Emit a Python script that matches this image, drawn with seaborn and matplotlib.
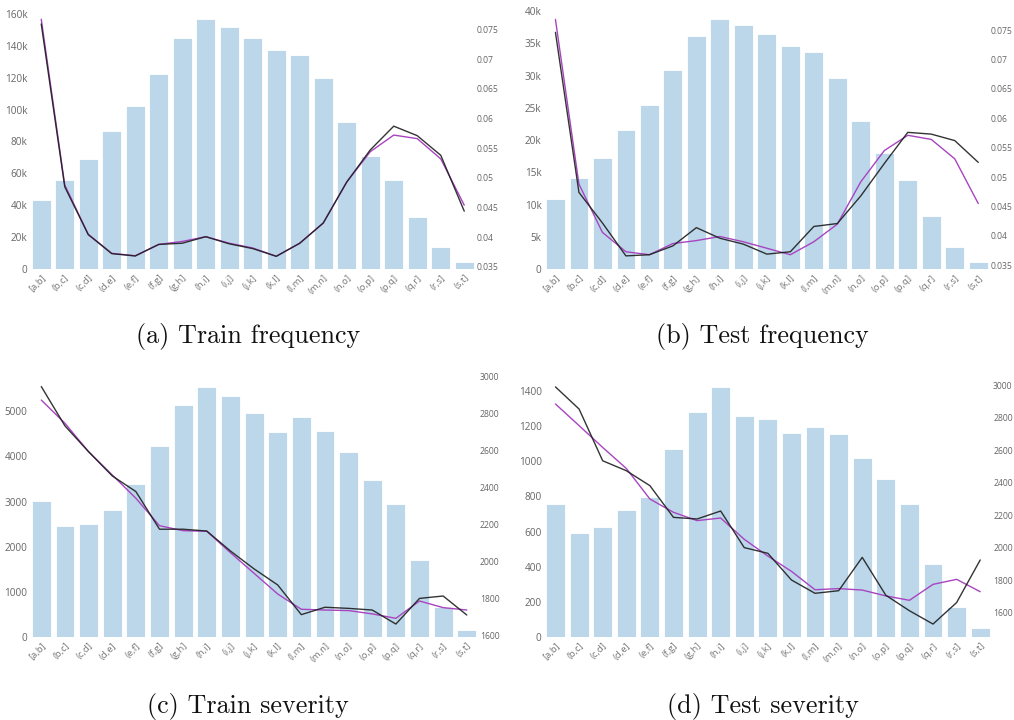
import numpy as np
import matplotlib
matplotlib.use("Agg")
import matplotlib.pyplot as plt
import seaborn as sns

# Interval bins shared by all four panels
bins = ["[a,b]", "(b,c]", "(c,d]", "(d,e]", "(e,f]", "(f,g]", "(g,h]", "(h,i]",
        "(i,j]", "(j,k]", "(k,l]", "(l,m]", "(m,n]", "(n,o]", "(o,p]", "(p,q]",
        "(q,r]", "(r,s]", "(s,t]"]

# Exposure counts per bin (bars, left axis)
train_freq_counts = [43.4e3, 56.0e3, 69.1e3, 86.7e3, 102.3e3, 122.6e3, 145.2e3, 156.7e3,
                     151.9e3, 145.2e3, 137.4e3, 134.3e3, 119.7e3, 92.5e3, 71.2e3, 55.8e3,
                     32.8e3, 13.8e3, 4.4e3]
test_freq_counts = [10.9e3, 14.1e3, 17.2e3, 21.6e3, 25.5e3, 30.8e3, 36.2e3, 38.7e3,
                    37.9e3, 36.4e3, 34.6e3, 33.6e3, 29.6e3, 23.0e3, 18.0e3, 13.8e3,
                    8.3e3, 3.4e3, 1.1e3]
train_sev_counts = [3006, 2467, 2496, 2814, 3383, 4232, 5140, 5539, 5340, 4963, 4550,
                    4867, 4572, 4092, 3479, 2939, 1706, 657, 155]
test_sev_counts = [757, 590, 628, 723, 799, 1068, 1279, 1423, 1256, 1241, 1161, 1195,
                   1156, 1019, 901, 757, 417, 169, 49]

# Observed (black) and fitted (purple) curves, right axis
train_freq_obs = [0.0759, 0.0485, 0.04045, 0.03725, 0.03685, 0.0388, 0.0390, 0.0401,
                  0.0389, 0.0381, 0.0368, 0.0390, 0.0424, 0.0493, 0.0547, 0.0587,
                  0.0571, 0.0538, 0.0444]
train_freq_fit = [0.0767, 0.0488, 0.0405, 0.0373, 0.0369, 0.0388, 0.0393, 0.0401,
                  0.0390, 0.0382, 0.0368, 0.0390, 0.0424, 0.0493, 0.0544, 0.0572,
                  0.0566, 0.0532, 0.0454]
test_freq_obs = [0.0746, 0.0474, 0.0422, 0.0366, 0.0368, 0.0383, 0.0414, 0.0396,
                 0.0386, 0.0369, 0.0373, 0.0416, 0.0421, 0.0468, 0.0523, 0.0576,
                 0.0573, 0.0562, 0.0525]
test_freq_fit = [0.0768, 0.0488, 0.0406, 0.0373, 0.0368, 0.0387, 0.0392, 0.0399,
                 0.0390, 0.0379, 0.0368, 0.0390, 0.0420, 0.0492, 0.0545, 0.0571,
                 0.0564, 0.0531, 0.0455]
train_sev_obs = [2948, 2735, 2595, 2464, 2379, 2175, 2175, 2165, 2057, 1960, 1873,
                 1712, 1752, 1746, 1737, 1661, 1800, 1813, 1710]
train_sev_fit = [2875, 2749, 2595, 2469, 2343, 2194, 2167, 2164, 2048, 1936, 1824,
                 1741, 1737, 1734, 1716, 1692, 1786, 1750, 1737]
test_sev_obs = [2990, 2854, 2536, 2475, 2383, 2188, 2178, 2227, 2002, 1967, 1803,
                1721, 1737, 1942, 1709, 1614, 1532, 1664, 1926]
test_sev_fit = [2885, 2752, 2618, 2489, 2301, 2219, 2168, 2184, 2053, 1950, 1856,
                1743, 1750, 1741, 1705, 1678, 1776, 1807, 1731]

# Tick values for each axis
train_freq_left_ticks = [0, 20e3, 40e3, 60e3, 80e3, 100e3, 120e3, 140e3, 160e3]
test_freq_left_ticks = [0, 5e3, 10e3, 15e3, 20e3, 25e3, 30e3, 35e3, 40e3]
freq_right_ticks = [0.035, 0.04, 0.045, 0.05, 0.055, 0.06, 0.065, 0.07, 0.075]
train_sev_left_ticks = [0, 1000, 2000, 3000, 4000, 5000]
test_sev_left_ticks = [0, 200, 400, 600, 800, 1000, 1200, 1400]
sev_right_ticks = [1600, 1800, 2000, 2200, 2400, 2600, 2800, 3000]

captions = ["(a) Train frequency", "(b) Test frequency",
            "(c) Train severity", "(d) Test severity"]

BAR = "#bcd7ea"
OBS = "#1e1e1e"
FIT = "#a844c0"
TICK = "#666666"

W, H = 1014, 720
sns.set_theme(style="white")
plt.rcParams["font.family"] = ["Open Sans", "DejaVu Sans"]
fig = plt.figure(figsize=(W / 100, H / 100), dpi=100)


def k_fmt(v):
    return "0" if v == 0 else f"{v/1000:g}k"


def plain_fmt(v):
    return f"{v:g}"


# panel boxes in pixels: left, right, top, bottom; plus axis limits
panels = [
    dict(box=(29.5, 476.0, 13, 269), lylim=(0, 160627), rylim=(0.034663, 0.077743),
         counts=train_freq_counts, obs=train_freq_obs, fit=train_freq_fit,
         lticks=train_freq_left_ticks, rticks=freq_right_ticks, lfmt=k_fmt, rfmt=plain_fmt,
         cap_xy=(248, 337)),
    dict(box=(543.7, 990.0, 10, 269.3), lylim=(0, 40155), rylim=(0.03432, 0.0784),
         counts=test_freq_counts, obs=test_freq_obs, fit=test_freq_fit,
         lticks=test_freq_left_ticks, rticks=freq_right_ticks, lfmt=k_fmt, rfmt=plain_fmt,
         cap_xy=(762, 337)),
    dict(box=(29.5, 478.6, 376, 637), lylim=(0, 5782), rylim=(1590.8, 3005.4),
         counts=train_sev_counts, obs=train_sev_obs, fit=train_sev_fit,
         lticks=train_sev_left_ticks, rticks=sev_right_ticks, lfmt=plain_fmt, rfmt=plain_fmt,
         cap_xy=(248, 706)),
    dict(box=(543.7, 992.0, 384, 637), lylim=(0, 1439.8), rylim=(1452.4, 3008),
         counts=test_sev_counts, obs=test_sev_obs, fit=test_sev_fit,
         lticks=test_sev_left_ticks, rticks=sev_right_ticks, lfmt=plain_fmt, rfmt=plain_fmt,
         cap_xy=(763, 706)),
]

for p, caption in zip(panels, captions):
    l, r, t, b = p["box"]
    ax = fig.add_axes([l / W, 1 - b / H, (r - l) / W, (b - t) / H])
    sns.barplot(x=bins, y=p["counts"], ax=ax, color=BAR, saturation=1, width=0.8,
                edgecolor="white", linewidth=0.6)
    ax.set_xlim(-0.5, len(bins) - 0.5)
    ax.set_ylim(*p["lylim"])
    ax.set_yticks(p["lticks"])
    ax.set_yticklabels([p["lfmt"](v) for v in p["lticks"]])
    ax.tick_params(axis="y", length=0, pad=1.5, labelsize=7.2, labelcolor=TICK)
    ax.set_xticks(range(len(bins)))
    ax.set_xticklabels(bins, rotation=45, ha="right", rotation_mode="anchor")
    ax.tick_params(axis="x", length=0, pad=3, labelsize=6.8, labelcolor="#777777")
    ax.set_xlabel("")
    ax.set_ylabel("")
    for s in ax.spines.values():
        s.set_visible(False)

    ax2 = ax.twinx()
    xpos = np.arange(len(bins))
    sns.lineplot(x=xpos, y=p["fit"], ax=ax2, color=FIT, linewidth=1.0)
    sns.lineplot(x=xpos, y=p["obs"], ax=ax2, color=OBS, linewidth=1.0, alpha=0.9)
    ax2.set_ylim(*p["rylim"])
    ax2.set_yticks(p["rticks"])
    ax2.set_yticklabels([p["rfmt"](v) for v in p["rticks"]])
    ax2.tick_params(axis="y", length=0, pad=0.8, labelsize=6.2, labelcolor=TICK)
    ax2.set_ylabel("")
    ax2.grid(False)
    for s in ax2.spines.values():
        s.set_visible(False)

    cx, cy = p["cap_xy"]
    fig.text(cx / W, 1 - cy / H, caption, ha="center", va="center",
             family="cmr10", fontsize=18.8, color="#111111")

fig.savefig("out.png", dpi=100)
